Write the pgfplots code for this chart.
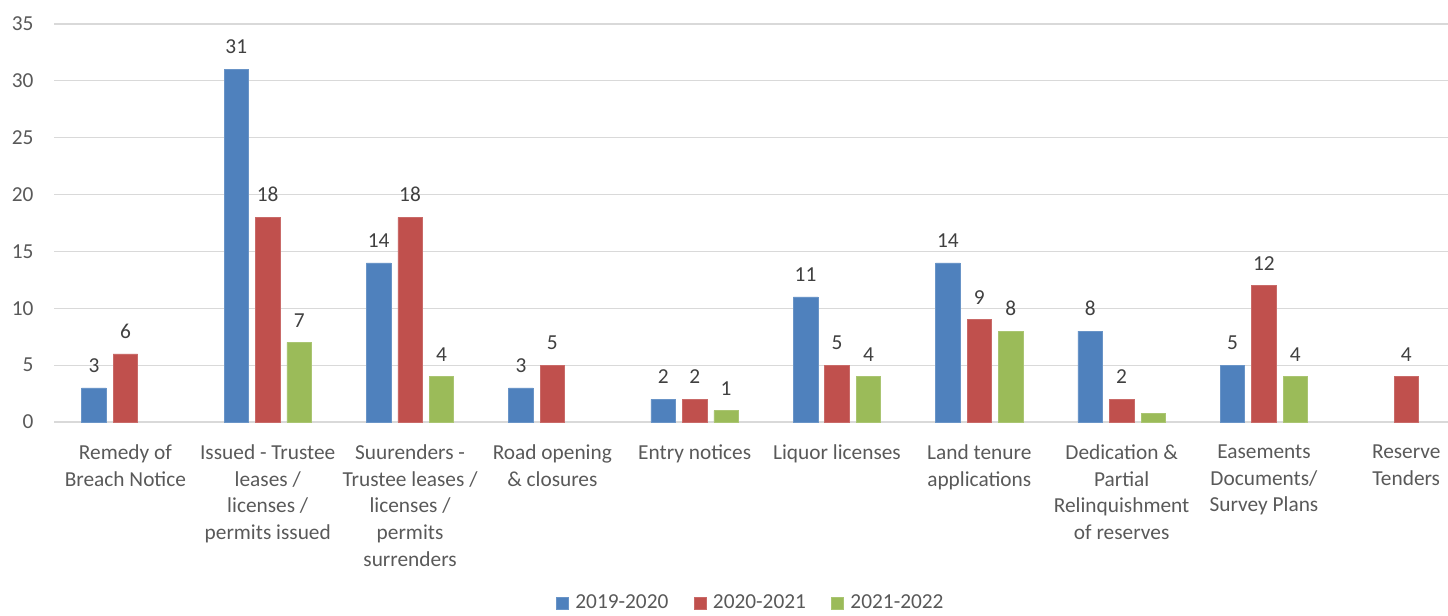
\documentclass[border=0pt]{standalone}
\usepackage{pgfplots}
\pgfplotsset{compat=1.18}
\usepackage{fontspec}
\setmainfont{Carlito}
\definecolor{cBlue}{HTML}{4F81BD}
\definecolor{cRed}{HTML}{C0504D}
\definecolor{cGreen}{HTML}{9BBB59}
\definecolor{txt}{HTML}{595959}
\definecolor{lbl}{HTML}{404040}
\definecolor{gridc}{HTML}{D9D9D9}
\begin{document}
\fontsize{16}{20}\selectfont
\begin{tikzpicture}
\useasboundingbox (-40.7pt,-144.75pt) rectangle (1045.3pt,316.5pt);
\begin{axis}[
  at={(0,0)}, anchor=south west,
  scale only axis,
  width=1045.3pt, height=298.5pt,
  ybar, bar width=0.172,
  xmin=-0.5, xmax=9.294,
  ymin=0, ymax=35,
  ytick={0,5,...,35},
  xtick={0,...,9},
  xticklabels={
    {Remedy of\\Breach Notice},
    {Issued - Trustee\\leases /\\licenses /\\permits issued},
    {Suurenders -\\Trustee leases /\\licenses /\\permits\\surrenders},
    {Road opening\\\& closures},
    {Entry notices},
    {Liquor licenses},
    {Land tenure\\applications},
    {Dedication \&\\Partial\\Relinquishment\\of reserves},
    {Easements\\Documents/\\Survey Plans},
    {Reserve\\Tenders}},
  xticklabel style={align=center, text=txt, font=\fontsize{16}{20}\selectfont, anchor=north, yshift=-11.5pt},
  yticklabel style={text=txt, font=\fontsize{16}{20}\selectfont, xshift=-10pt},
  /pgf/number format/assume math mode=true,
  major tick length=0pt,
  axis line style={draw=none},
  ymajorgrids, grid style={gridc, line width=0.9pt},
  nodes near coords,
  every node near coord/.append style={text=lbl, font=\fontsize{16}{20}\selectfont, yshift=6pt},
  legend style={at={(0.5,-0.455)}, anchor=center, draw=none, legend columns=3,
    font=\fontsize{16}{20}\selectfont, text=txt, inner sep=1pt,
    /tikz/every odd column/.append style={column sep=3pt},
    /tikz/every even column/.append style={column sep=17pt}},
  legend image code/.code={\fill[#1] (0pt,-4.5pt) rectangle (9pt,4.5pt);},
]
\addplot[fill=cBlue, draw=cBlue!85!white, bar shift=-0.221] coordinates {(0,3) (1,31) (2,14) (3,3) (4,2) (5,11) (6,14) (7,8) (8,5)};
\addlegendentry{2019-2020}
\addplot[fill=cRed, draw=cRed!85!white, bar shift=0] coordinates {(0,6) (1,18) (2,18) (3,5) (4,2) (5,5) (6,9) (7,2) (8,12) (9,4)};
\addlegendentry{2020-2021}
\addplot[fill=cGreen, draw=cGreen!85!white, bar shift=0.221] coordinates {(1,7) (2,4) (4,1) (5,4) (6,8) (8,4)};
\addlegendentry{2021-2022}
\addplot[fill=cGreen, draw=cGreen!85!white, bar shift=0.221, nodes near coords=\empty, forget plot] coordinates {(7,0.8)};
\end{axis}
\end{tikzpicture}
\end{document}
